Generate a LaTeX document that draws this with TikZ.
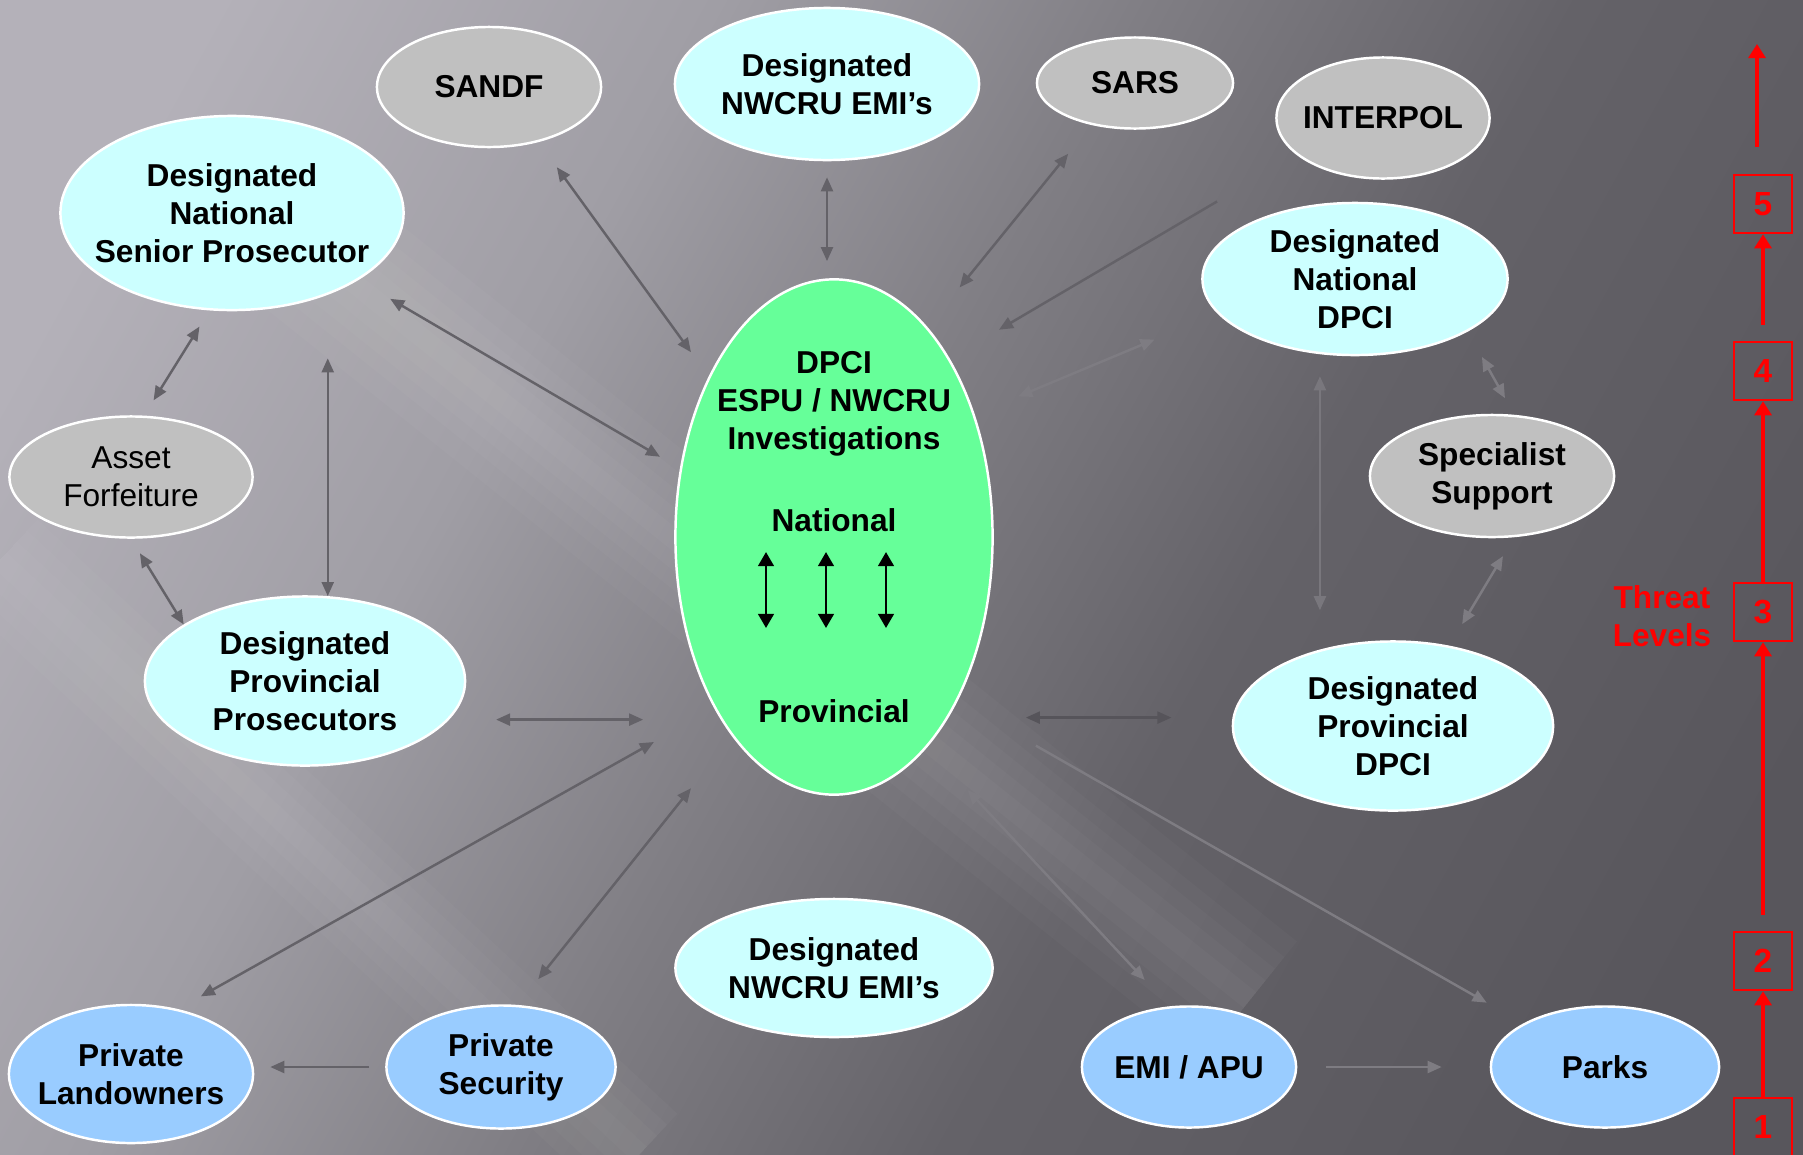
\documentclass[tikz,border=0pt]{standalone}
\usepackage{fontspec}
\setmainfont{Liberation Sans}
\usetikzlibrary{shapes.geometric,arrows.meta,calc}

\definecolor{cyanF}{HTML}{CCFFFF}
\definecolor{grayF}{HTML}{C0C0C0}
\definecolor{greenF}{HTML}{66FF99}
\definecolor{blueF}{HTML}{99CCFF}
\definecolor{connC}{HTML}{646268}
\definecolor{connD}{HTML}{56545A}
\definecolor{connL}{HTML}{7E7C82}
\definecolor{bgA}{RGB}{180,177,185}
\definecolor{bgB}{RGB}{160,158,165}
\definecolor{bgC}{RGB}{128,126,132}
\definecolor{bgD}{RGB}{100,98,104}
\definecolor{bgE}{RGB}{88,86,92}
\pgfdeclarehorizontalshading{bgshade}{100bp}{color(0bp)=(bgA); color(22bp)=(bgA); color(36bp)=(bgB); color(48bp)=(bgC); color(60bp)=(bgD); color(78bp)=(bgE); color(100bp)=(bgE)}

\tikzset{
	ell/.style={ellipse, draw=white, line width=0.7pt, inner sep=0pt},
	txt/.style={font=\bfseries\fontsize{9}{10.8}\selectfont, align=center, text=black, inner sep=0pt},
	txtn/.style={txt, font=\fontsize{9}{10.8}\selectfont},
	conn/.style={draw=connC, line width=0.7pt, >={Triangle[length=4pt,width=3.4pt]}, <->},
	conn1/.style={conn, ->},
	updown/.style={black, line width=0.8pt, >={Triangle[length=4pt,width=4.4pt]}, <->},
	lvl/.style={draw=red, line width=0.7pt, minimum size=0.58cm, inner sep=0pt,
			font=\bfseries\fontsize{9.5}{11}\selectfont, text=red},
	lvlarrow/.style={red, line width=1pt, -{Triangle[length=4pt,width=4.8pt]}}
}

\begin{document}
\begin{tikzpicture}[x=0.01cm,y=-0.01cm]
	%--- background ---
	\useasboundingbox (0,0) rectangle (1803,1154);
	\clip (0,0) rectangle (1803,1154);
	\shade[shading=bgshade, shading angle=-29] (0,0) rectangle (1803,1154);
	\foreach \w in {20,50,80,110,150}
		\draw[white, draw opacity=0.025, line width=\w*0.01cm] (250,200) -- (1250,1000);
	\foreach \w in {20,50,80,110}
		\draw[white, draw opacity=0.025, line width=\w*0.01cm] (0,560) -- (640,1154);

	%--- nodes ---
	\node[ell, fill=greenF, minimum width=3.17cm, minimum height=5.15cm] (dpci) at (834,537) {};
	\node[txt] (dpci-t) at (834,404) {DPCI\\ESPU / NWCRU\\Investigations};
	\node[txt] (nat) at (834,520) {National};
	\node[txt] (prov) at (834,711) {Provincial};

	\node[ell, fill=grayF, minimum width=2.24cm, minimum height=1.2cm,
		label={[txt]center:SANDF}] (sandf) at (489,87) {};
	\node[ell, fill=cyanF, minimum width=3.04cm, minimum height=1.52cm,
		label={[txt]center:Designated\\NWCRU EMI’s}] (nwtop) at (827,84) {};
	\node[ell, fill=grayF, minimum width=1.96cm, minimum height=0.91cm,
		label={[txt]center:SARS}] (sars) at (1135,83) {};
	\node[ell, fill=grayF, minimum width=2.13cm, minimum height=1.21cm,
		label={[txt]center:INTERPOL}] (interpol) at (1383,118) {};
	\node[ell, fill=cyanF, minimum width=3.43cm, minimum height=1.94cm,
		label={[txt]center:Designated\\National\\Senior Prosecutor}] (senpros) at (232,213) {};
	\node[ell, fill=cyanF, minimum width=3.05cm, minimum height=1.52cm,
		label={[txt]center:Designated\\National\\DPCI}] (natdpci) at (1355,279) {};
	\node[ell, fill=grayF, minimum width=2.43cm, minimum height=1.21cm,
		label={[txtn]center:Asset\\Forfeiture}] (asset) at (131,477) {};
	\node[ell, fill=grayF, minimum width=2.44cm, minimum height=1.22cm,
		label={[txt]center:Specialist\\Support}] (spec) at (1492,476) {};
	\node[ell, fill=cyanF, minimum width=3.2cm, minimum height=1.69cm,
		label={[txt]center:Designated\\Provincial\\Prosecutors}] (provpros) at (305,681) {};
	\node[ell, fill=cyanF, minimum width=3.2cm, minimum height=1.69cm,
		label={[txt]center:Designated\\Provincial\\DPCI}] (provdpci) at (1393,726) {};
	\node[ell, fill=cyanF, minimum width=3.17cm, minimum height=1.38cm,
		label={[txt]center:Designated\\NWCRU EMI’s}] (nwbot) at (834,968) {};
	\node[ell, fill=blueF, minimum width=2.44cm, minimum height=1.38cm,
		label={[txt]center:Private\\Landowners}] (land) at (131,1074) {};
	\node[ell, fill=blueF, minimum width=2.29cm, minimum height=1.23cm,
		label={[txt]center:Private\\Security}] (sec) at (501,1067) {};
	\node[ell, fill=blueF, minimum width=2.14cm, minimum height=1.21cm,
		label={[txt]center:EMI / APU}] (emi) at (1189,1067) {};
	\node[ell, fill=blueF, minimum width=2.28cm, minimum height=1.21cm,
		label={[txt]center:Parks}] (parks) at (1605,1067) {};

	%--- national / provincial inside the centre ---
	\foreach \dx in {-68,-8,52}
		\draw[updown] ($(dpci)+(\dx,15)$) -- ($(dpci)+(\dx,91)$);

	%--- connectors ---
	\draw[conn, shorten <=0.31cm, shorten >=0.30cm] (sandf.-48) -- (dpci.128);
	\draw[conn, shorten <=0.16cm, shorten >=0.17cm] (nwtop.south) -- (nwtop.south |- dpci.north);
	\draw[conn, shorten <=0.37cm, shorten >=0.51cm] (sars.224) -- (dpci.66);
	\draw[conn1, shorten <=0.92cm, shorten >=0.57cm] (interpol.203) -- (dpci.57);
	\draw[conn, draw=connL, shorten <=0.68cm, shorten >=0.47cm] (natdpci.194) -- (dpci.41);
	\draw[conn, shorten <=0.37cm, shorten >=0.23cm] (senpros.-28) -- (dpci.156);
	\draw[conn, shorten <=0.19cm, shorten >=0.18cm] (senpros.257) -- (asset.78);
	\draw[conn, shorten <=0.47cm] (provpros.75 |- senpros.south) -- (provpros.75);
	\draw[conn, shorten <=0.17cm] (asset.south) -- (provpros.155);
	\draw[conn, shorten <=0.47cm, shorten >=0.31cm] (provpros.-15) -- (provpros.-15 -| dpci.west);
	\draw[conn, draw=connD, shorten <=0.32cm, shorten >=0.61cm] (provdpci.177 -| dpci.east) -- (provdpci.177);
	\draw[conn, draw=connL, shorten <=0.29cm, shorten >=0.19cm] (natdpci.-25) -- (spec.70);
	\draw[conn, draw=connL!80!connC, shorten <=0.22cm, shorten >=0.30cm] (natdpci.245) -- (natdpci.245 |- provdpci.north);
	\draw[conn, draw=connL, shorten <=0.22cm, shorten >=0.25cm] (spec.290) -- (provdpci.55);
	\draw[conn, shorten <=0.69cm, shorten >=0.26cm] (dpci.235) -- (land.54);
	\draw[conn, shorten <=0.66cm, shorten >=0.33cm] (dpci.243) -- (sec.75);
	\draw[conn1, shorten <=0.16cm, shorten >=0.16cm] (sec.west) -- (sec.west -| land.east);
	\draw[conn, draw=connL, shorten <=0.59cm, shorten >=0.36cm] (dpci.-66) -- (emi.108);
	\draw[conn1, draw=connL, shorten <=0.90cm, shorten >=0.42cm] (dpci.-53) -- (parks.152);
	\draw[conn1, draw=connL, shorten <=0.29cm, shorten >=0.48cm] (emi.east) -- (parks.west);

	%--- threat levels ---
	\node[txt, text=red] (threat) at (1662,616) {Threat\\Levels};
	\node[lvl] (lvl1) at (1763,1127) {1};
	\node[lvl] (lvl2) at (1763,961) {2};
	\node[lvl] (lvl3) at (1763,612) {3};
	\node[lvl] (lvl4) at (1763,371) {4};
	\node[lvl] (lvl5) at (1763,204) {5};
	\coordinate (lvltop) at (1757,44);
	\draw[lvlarrow] (lvl1) -- (lvl2);
	\draw[lvlarrow, shorten <=0.16cm] (lvl2) -- (lvl3);
	\draw[lvlarrow] (lvl3) -- (lvl4);
	\draw[lvlarrow, shorten <=0.16cm] (lvl4) -- (lvl5);
	\draw[lvlarrow, shorten <=0.27cm] (lvltop |- lvl5.north) -- (lvltop);
\end{tikzpicture}
\end{document}
